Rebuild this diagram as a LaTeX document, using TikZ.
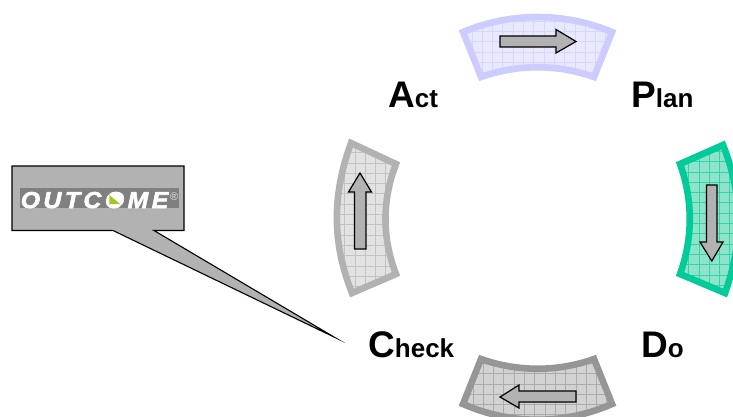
\documentclass[tikz,border=0pt]{standalone}
\usepackage{fontspec}
\setmainfont{Liberation Sans}
\newfontfamily\logofont[LetterSpace=15,FakeStretch=1.08,FakeBold=2.5]{Liberation Sans Bold Italic}
\usetikzlibrary{calc}
\definecolor{violetline}{HTML}{CCCCFF}
\definecolor{violetfill}{HTML}{E8E8FF}
\definecolor{greenline}{HTML}{00CC99}
\definecolor{greenfill}{HTML}{8FE3CA}
\definecolor{darkline}{HTML}{969696}
\definecolor{darkfill}{HTML}{D2D2D2}
\definecolor{paleline}{HTML}{B2B2B2}
\definecolor{palefill}{HTML}{E2E2E2}
\definecolor{arrowgray}{HTML}{B2B2B2}
\definecolor{logogray}{HTML}{808080}
\definecolor{logogreen}{HTML}{9CCB19}
\tikzset{
  x=1pt,y=-1pt,
  flow/.style={draw=black,line width=1.2pt,fill=arrowgray,line join=miter},
  phase/.style={inner sep=0pt,anchor=base west,font=\bfseries\fontsize{26}{26}\selectfont},
  bandline/.style={line width=6.6pt,line join=miter,miter limit=10},
  coarsegrid/.style={line width=.7pt},
}
\newcommand{\bandshape}[5]{%
  \fill[#3] #1;
  \begin{scope}
    \clip #1;
    \draw[#2!65!#3,coarsegrid,shift={(#4,#5)}] (-20,-20) grid[step=10.3pt] (420,420);
  \end{scope}
  \draw[#2,bandline] #1;
}
\newcommand{\caplett}[1]{{\fontsize{37}{37}\selectfont #1}}
\begin{document}
\begin{tikzpicture}
\useasboundingbox (0,0) rectangle (733,416);
\fill[white] (0,0) rectangle (733,416);

% bands
\bandshape{(463,32) .. controls (511,12) and (564,12) .. (612,32) -- (594,77) .. controls (557,64) and (518,64) .. (481,77) -- cycle}{violetline}{violetfill}{441}{21}
\bandshape{(680,164) -- (723,145) .. controls (743,195) and (743,243) .. (725,293) -- (680,274) .. controls (693,238) and (693,200) .. (680,164) -- cycle}{greenline}{greenfill}{668}{141}
\bandshape{(481,359) .. controls (518,372) and (557,372) .. (594,359) -- (612,404) .. controls (564,425) and (511,425) .. (463,404) -- cycle}{darkline}{darkfill}{442}{353}
\bandshape{(351,143) -- (396,164) .. controls (382,200) and (382,238) .. (396,274) -- (352,293) .. controls (332,243) and (332,195) .. (351,143) -- cycle}{paleline}{palefill}{324}{132}

% arrows
\draw[flow] (500,36) -- (556,36) -- (556,29.5) -- (576,41.5) -- (556,53) -- (556,47) -- (500,47) -- cycle;
\draw[flow] (706.5,185) -- (717,185) -- (717,242) -- (723,242) -- (711.8,261) -- (700,242) -- (706.5,242) -- cycle;
\draw[flow] (576,391) -- (519,391) -- (519,385) -- (500,397) -- (519,408) -- (519,402) -- (576,402) -- cycle;
\draw[flow] (354.5,249) -- (354.5,192) -- (348.5,192) -- (360,173) -- (371.5,192) -- (366,192) -- (366,249) -- cycle;

% labels
\node[phase] (act) at (388,107.3) {\caplett{A}ct};
\node[phase] (plan) at (631,107.3) {\caplett{P}lan};
\node[phase] (check) at (368,357) {\caplett{C}heck};
\node[phase] (do) at (641,357) {\caplett{D}o};

% callout
\coordinate (tip) at (334,337);
\draw[flow,line width=1.1pt,line join=miter,miter limit=40] (12,166) -- (184,166) -- (184,230.5) -- (154,230.5) -- (tip) -- (113,230.5) -- (12,230.5) -- cycle;

% logo
\node[fill=logogray,minimum width=159pt,minimum height=20pt,inner sep=0pt,anchor=north west] (logo) at (20,188) {};
\node[inner sep=0pt,anchor=base west,text=white,font=\logofont\fontsize{23}{23}\selectfont] (word) at (20.5,208) {OUTCOME};
\node[inner sep=0pt,anchor=base east,text=white!80!logogray,font=\fontsize{11}{11}\selectfont] (mark) at (178.5,200) {®};
\fill[white] (114.5,200.3) ellipse[x radius=8,y radius=7];
\fill[logogreen] (109.3,195) -- (120,204) -- (109.3,204) -- cycle;
\end{tikzpicture}
\end{document}
